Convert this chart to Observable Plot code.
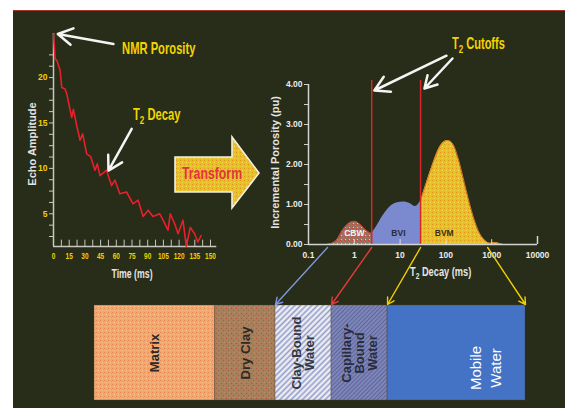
<!DOCTYPE html>
<html><head><meta charset="utf-8">
<script src="https://cdn.jsdelivr.net/npm/d3@7"></script>
<script src="https://cdn.jsdelivr.net/npm/@observablehq/plot@0.6"></script>
<style>
html,body{margin:0;padding:0;background:#fff;}
#wrap{position:relative;width:565px;height:408px;overflow:hidden;background:#fff;}
#bg{position:absolute;left:13px;top:10px;right:0;bottom:0;background:#272d19;border-top:1.5px solid #a8342a;}
.lbl{position:absolute;font-family:"Liberation Sans",Arial,sans-serif;font-weight:bold;white-space:nowrap;line-height:1;transform-origin:0 0;}
.lbl sub{font-size:0.72em;vertical-align:-0.35em;line-height:0;}
</style></head>
<body><div id="wrap"><div id="bg"></div>
<svg id="deco" width="565" height="408" style="position:absolute;left:0;top:0">
  <defs>
    <pattern id="pMatrix" width="4" height="4" patternUnits="userSpaceOnUse">
      <rect width="4" height="4" fill="#f5a86c"/><rect x="0" y="0" width="1" height="1" fill="#e48a5a"/>
      <rect x="2" y="2" width="1" height="1" fill="#fcc290"/><rect x="3" y="1" width="1" height="1" fill="#ee9862"/>
    </pattern>
    <pattern id="pDry" width="5" height="5" patternUnits="userSpaceOnUse">
      <rect width="5" height="5" fill="#a8805c"/><rect x="1" y="3" width="1" height="1" fill="#c04a3c"/>
      <rect x="3" y="0" width="1" height="1" fill="#8e6a4a"/><rect x="4" y="2" width="1" height="1" fill="#b88e68"/>
    </pattern>
    <pattern id="pCBWbar" width="4" height="4" patternUnits="userSpaceOnUse" patternTransform="rotate(45)">
      <rect width="4" height="4" fill="#d2d5e6"/><rect width="1" height="4" fill="#8f9ac8"/><rect x="2" width="1" height="4" fill="#f4f4f8"/>
    </pattern>
    <pattern id="pCap" width="3" height="3" patternUnits="userSpaceOnUse" patternTransform="rotate(45)">
      <rect width="3" height="3" fill="#7e86b8"/><rect width="1" height="3" fill="#5e669e"/>
    </pattern>
    <pattern id="pCBW" width="4" height="4" patternUnits="userSpaceOnUse">
      <rect width="4" height="4" fill="#9a7262"/><rect x="0" y="0" width="1" height="1" fill="#c44838"/>
      <rect x="2" y="1" width="1" height="1" fill="#6a78c0"/><rect x="1" y="3" width="1" height="1" fill="#dccab8"/>
    </pattern>
    <pattern id="pBVM" width="4" height="4" patternUnits="userSpaceOnUse">
      <rect width="4" height="4" fill="#e6c026"/><rect x="0" y="0" width="1" height="1" fill="#e09422"/>
      <rect x="2" y="2" width="1" height="1" fill="#f4dc4c"/>
    </pattern>
  </defs>
  <path d="M175,157 H232 V137 L259,173 L232,208 V192 H175 Z" fill="url(#pBVM)" stroke="#f4f0e0" stroke-width="1.6"/>
  <text transform="translate(212,179) scale(0.77,1)" text-anchor="middle" font-family="'Liberation Sans',Arial,sans-serif" font-weight="bold" font-size="16" fill="#e5323e">Transform</text>
</svg>
<div class="lbl" style="left:133px;top:107px;font-size:16px;color:#f3d400;transform:scaleX(0.7)">T<sub>2</sub> Decay</div>
<div class="lbl" style="left:452px;top:36px;font-size:16px;color:#f3d400;transform:scaleX(0.69)">T<sub>2</sub> Cutoffs</div>
<div class="lbl" style="left:410px;top:266px;font-size:12.5px;color:#e4e4e4;transform:scaleX(0.74)">T<sub>2</sub> Decay (ms)</div>
</div>
<script>
// ---- data ----
const decayTime = [0, 1.6, 3.2, 6.3, 7.9, 11, 12.7, 17.4, 19, 22.2, 25.4, 27.9, 31.7, 35.5, 39.6, 41.9, 44.4, 50.7, 55.5, 58.7, 63.4, 69.8, 76, 80.9, 85.6, 90.4, 95, 101.5, 104.7, 109.4, 111.6, 115.8, 119, 123.7, 126.9, 130.7, 134.8, 138, 141];
const decayAmp = [24.8, 22.05, 21.9, 20.8, 18.9, 18.75, 18.2, 15.6, 16.5, 14.7, 13.1, 13.8, 11.6, 11.3, 9.8, 10.5, 9.2, 9.8, 8.1, 8.7, 7.2, 7.4, 6.1, 6.5, 4.7, 5.4, 4.7, 5.0, 4.3, 3.2, 5.0, 3.9, 2.8, 4.3, 1.4, 3.5, 2.8, 1.9, 2.6];
const timeTicks = [0, 15, 30, 45, 60, 75, 90, 105, 120, 135, 150];
const ampTicks = [5, 10, 15, 20];

const t2Values = [0.255, 0.39, 0.55, 0.77, 1.0, 1.29, 1.82, 2.4, 3.0, 4.3, 6.0, 8.4, 11.9, 16.7, 21.6, 25.6, 28, 39, 55, 77, 108, 140, 181, 255, 360, 505, 710, 920, 1200, 1530, 1800];
const porosity = [0, 0.08, 0.35, 0.53, 0.58, 0.52, 0.35, 0.27, 0.43, 0.73, 0.94, 1.04, 1.06, 1.02, 0.95, 1.02, 1.09, 1.6, 2.1, 2.48, 2.6, 2.52, 2.19, 1.52, 0.85, 0.35, 0.1, 0.03, 0.05, 0.015, 0];
const cutoffs = [2.4, 28];
const porTicks = [0, 1, 2, 3, 4];
const t2Ticks = [0.1, 1, 10, 100, 1000, 10000];
const regionNames = ["CBW", "BVI", "BVM"];
const regionLabelT2 = [1, 9.2, 92];
const regionFills = ["url(#pCBW)", "#7b89cf", "url(#pBVM)"];
const regionText = ["#f2f2f2", "#2a2d3a", "#3a3218"];

const phaseNames = ["Matrix", "Dry Clay", "Clay-Bound\nWater", "Capillary-\nBound\nWater", "Mobile\nWater"];
const phaseWidths = [28, 14, 13, 13, 32];
const phaseColors = ["url(#pMatrix)", "url(#pDry)", "url(#pCBWbar)", "url(#pCap)", "#4472c4"];
const phaseText = ["#2e2a22", "#2e2a22", "#363842", "#2a2c3c", "#ffffff"];

const linkT2 = [0.26, 2.4, 28, 815];
const linkColors = ["#8096dc", "#e23a3a", "#f2d000", "#f2d000"];

// ---- layout ----
const W = 565, H = 408;
const SANS = '"Liberation Sans",Arial,sans-serif';
const L1 = {left: 53, right: 210, top: 33, bottom: 246};
const L2 = {left: 308, right: 537, top: 84, bottom: 244};
const L3 = {left: 94, right: 525, top: 305, bottom: 400};
const wrap = document.getElementById("wrap");
function place(svg) {
  svg.style.position = "absolute"; svg.style.left = "0"; svg.style.top = "0";
  svg.style.background = "transparent"; svg.style.overflow = "visible";
  wrap.appendChild(svg);
}
// horizontally condense text of selected mark groups (narrow display face)
function squeeze(svg, selector, k) {
  svg.querySelectorAll(selector).forEach(t => {
    const tr = t.getAttribute("transform") || "";
    t.setAttribute("transform", tr + ` scale(${k},1)`);
  });
}
const yMin = 1.4, yMax = 24.85;

// ---- bottom bar ----
const cum = d3.cumsum(phaseWidths);
const phases = phaseNames.map((name, i) => ({name, x1: cum[i] - phaseWidths[i], x2: cum[i], fill: phaseColors[i], text: phaseText[i]}));
const pBar = Plot.plot({
  width: W, height: H,
  marginLeft: L3.left, marginRight: W - L3.right, marginTop: L3.top, marginBottom: H - L3.bottom,
  style: {background: "transparent"},
  x: {domain: [0, 100], axis: null}, y: {domain: [0, 1], axis: null},
  color: {type: "identity"},
  marks: [
    Plot.rect(phases, {x1: "x1", x2: "x2", y1: 0, y2: 1, fill: "fill", stroke: "#4a4030", strokeOpacity: 0.35}),
    Plot.text(phases.slice(0, 4), {x: d => (d.x1 + d.x2) / 2, y: 0.5, text: "name", rotate: -90, fill: "text",
      fontFamily: SANS, fontWeight: "bold", fontSize: 13, lineHeight: 1.02}),
    Plot.text(phases.slice(4), {x: d => (d.x1 + d.x2) / 2, y: 0.5, text: "name", rotate: -90, fill: "text", dx: 28, dy: 15,
      fontFamily: SANS, fontSize: 15, lineHeight: 1.3})
  ]
});
place(pBar);

// ---- decay plot ----
const decay = decayTime.map((t, i) => ({t, a: decayAmp[i]}));
const pDecay = Plot.plot({
  width: W, height: H,
  marginLeft: L1.left, marginRight: W - L1.right, marginTop: L1.top, marginBottom: H - L1.bottom,
  style: {background: "transparent", fontFamily: SANS},
  x: {domain: [0, 150], axis: null}, y: {domain: [yMin, yMax], axis: null},
  marks: [
    Plot.axisY({ticks: d3.range(2.5, 23, 1.25), tickSize: 4, tickPadding: 2, tickFormat: d => ampTicks.includes(d) ? d : "",
      stroke: "#c8c8c0", fill: "#f2d000", fontSize: 8.5, fontWeight: "bold", label: null}),
    Plot.axisX({ticks: timeTicks, tickSize: 0, tickPadding: 6, fill: "#f2d000", fontSize: 9, fontWeight: "bold", label: null}),
    Plot.ruleX(d3.range(7.5, 151, 7.5), {x: d => d, y1: yMin, y2: yMin + 0.7, stroke: "#c8c8c0"}),
    Plot.ruleY([yMin], {x1: 0, x2: 156, stroke: "#c8c8c0", strokeWidth: 1.5}),
    Plot.ruleX([0], {y1: yMin, y2: yMax, stroke: "#c8c8c0", strokeWidth: 1.5}),
    Plot.line(decay, {x: "t", y: "a", stroke: "#e8202a", strokeWidth: 1.6}),
    Plot.text(["Time (ms)"], {x: 75, y: yMin, dy: 27, text: d => d, fill: "#e4e4e4", fontSize: 12.5, fontWeight: "bold", ariaDescription: "narrow"}),
    Plot.text(["Echo Amplitude"], {frameAnchor: "left", textAnchor: "middle", dx: -21, dy: 4, rotate: -90, text: d => d, fill: "#e4e4e4", fontSize: 11, fontWeight: "bold"}),
    Plot.text(["NMR Porosity"], {x: 65.5, y: 23.2, text: d => d, textAnchor: "start", fill: "#f3d400", fontSize: 16, fontWeight: "bold", ariaDescription: "narrow"}),
    Plot.arrow([{x1: 57.3, y1: 23.7, x2: 4.1, y2: 24.8}, {x1: 74.7, y1: 14.35, x2: 52.5, y2: 9.76}],
      {x1: "x1", y1: "y1", x2: "x2", y2: "y2", stroke: "#f4f4f4", strokeWidth: 2.5, headLength: 10})
  ]
});
squeeze(pDecay, 'g[aria-description="narrow"] text', 0.7);
squeeze(pDecay, 'g[aria-label="x-axis tick label"] text', 0.72);
place(pDecay);

// ---- T2 distribution ----
const t2Y = Plot.scale({y: {domain: [0, 4], range: [L2.bottom, L2.top]}});
const t2X = Plot.scale({x: {type: "log", domain: [0.1, 10000], range: [L2.left, L2.right]}});
const barX = pBar.scale("x");
const dist = t2Values.map((t, i) => ({t, p: porosity[i]}));
const [c1, c2] = cutoffs;
const regions = [dist.filter(d => d.t <= c1), dist.filter(d => d.t >= c1 && d.t <= c2), dist.filter(d => d.t >= c2)];
const links = linkT2.map((t, i) => ({x1: t, y1: t2Y.invert(L2.bottom + 3), x2: t2X.invert(barX.apply(cum[i + 1])), y2: t2Y.invert(L3.top - 1), stroke: linkColors[i]}));
const labels = regionNames.map((name, i) => ({name, t: regionLabelT2[i], fill: regionText[i]}));

const pT2 = Plot.plot({
  width: W, height: H,
  marginLeft: L2.left, marginRight: W - L2.right, marginTop: L2.top, marginBottom: H - L2.bottom,
  style: {background: "transparent", fontFamily: SANS},
  x: {type: "log", domain: [0.1, 10000], axis: null}, y: {domain: [0, 4], axis: null},
  color: {type: "identity"},
  marks: [
    ...regions.map((r, i) => Plot.areaY(r, {x: "t", y: "p", fill: regionFills[i], curve: "monotone-x"})),
    Plot.line(regions[0], {x: "t", y: "p", stroke: "#c0402c", strokeWidth: 1, curve: "monotone-x"}),
    Plot.line(regions[2], {x: "t", y: "p", stroke: "#e07a20", strokeWidth: 1, curve: "monotone-x"}),
    Plot.text(labels, {x: "t", y: 0.28, text: "name", fill: "fill", fontSize: 8.5, fontWeight: "bold"}),
    Plot.ruleX(cutoffs, {y1: 0, y2: 4.1, stroke: "#d8262a", strokeWidth: 1.5}),
    Plot.axisY({ticks: d3.range(0, 4.01, 0.5), tickSize: 4, tickPadding: 2, tickFormat: d => porTicks.includes(d) ? d.toFixed(2) : "",
      stroke: "#d0d0d0", fill: "#ececec", fontSize: 8.5, fontWeight: "bold", label: null}),
    Plot.axisX({ticks: t2Ticks, tickSize: 0, tickPadding: 7, tickFormat: d => String(d), fill: "#ececec", fontSize: 8.5, fontWeight: "bold", label: null}),
    Plot.ruleY([0], {x1: 0.1, x2: 10000, stroke: "#d4d4d4", strokeWidth: 1.5}),
    Plot.ruleX([0.1], {y1: 0, y2: 4, stroke: "#d4d4d4", strokeWidth: 1.5}),
    Plot.ruleX(t2Ticks.slice(1, 5), {y1: 0, y2: 0.12, stroke: "#e0e0e0"}),
    Plot.ruleX([10000], {y1: 0, y2: 0.2, stroke: "#d4d4d4", strokeWidth: 1.5}),
    Plot.text(["Incremental Porosity (pu)"], {frameAnchor: "left", textAnchor: "middle", dx: -33, dy: -2, rotate: -90, text: d => d, fill: "#e4e4e4", fontSize: 11, fontWeight: "bold"}),
    Plot.arrow(links, {x1: "x1", y1: "y1", x2: "x2", y2: "y2", stroke: "stroke", strokeWidth: 1.4, headLength: 8}),
    Plot.arrow([{x1: 103, y1: 4.72, x2: 2.74, y2: 3.85}, {x1: 139, y1: 4.65, x2: 34, y2: 3.9}],
      {x1: "x1", y1: "y1", x2: "x2", y2: "y2", stroke: "#f4f4f4", strokeWidth: 2.5, headLength: 10})
  ]
});
place(pT2);
</script>
</body></html>
